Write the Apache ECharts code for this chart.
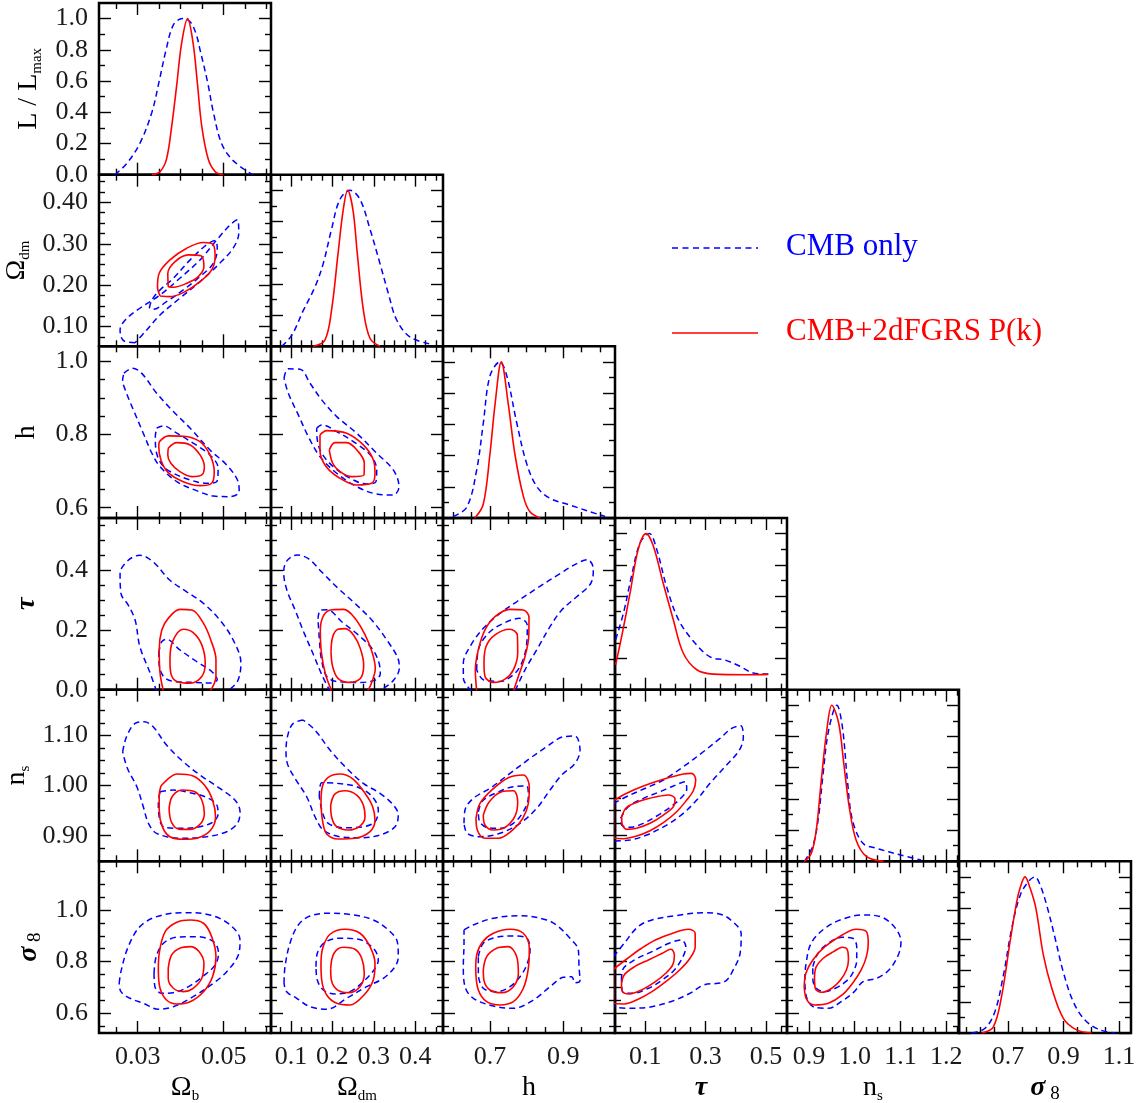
<!DOCTYPE html>
<html><head><meta charset="utf-8">
<script src="https://cdn.jsdelivr.net/npm/echarts@6/dist/echarts.min.js"></script>
<style>html,body{margin:0;padding:0;background:#fff}#c{width:1141px;height:1103px}</style>
</head><body><div id="c"></div>
<script>
// ---------------- 1-D likelihoods: [value, L/Lmax] ----------------
const likeOb_cmb = [[0.0247,0],[0.0274,0.07],[0.0305,0.2],[0.0333,0.4],[0.0350,0.6],[0.0366,0.8],[0.0383,0.96],[0.0404,1.0],[0.0422,0.98],[0.0436,0.9],[0.0445,0.8],[0.0462,0.6],[0.0476,0.4],[0.0495,0.2],[0.0522,0.09],[0.0567,0]];
const likeOb_pk = [[0.0333,0],[0.0352,0.02],[0.0367,0.1],[0.0379,0.31],[0.0391,0.58],[0.0402,0.84],[0.0416,1.0],[0.0429,0.84],[0.0439,0.58],[0.0449,0.31],[0.0464,0.1],[0.048,0.02],[0.0499,0]];
const likeOdm_cmb = [[0.0778,0],[0.102,0.07],[0.130,0.23],[0.158,0.38],[0.178,0.53],[0.198,0.75],[0.218,0.94],[0.243,1.0],[0.267,0.94],[0.291,0.75],[0.315,0.53],[0.335,0.34],[0.355,0.17],[0.387,0.06],[0.436,0.015]];
const likeOdm_pk = [[0.154,0],[0.182,0.04],[0.198,0.23],[0.214,0.6],[0.226,0.87],[0.237,1.0],[0.25,0.87],[0.26,0.6],[0.275,0.23],[0.291,0.05],[0.315,0]];
const likeH_cmb = [[0.600,0.01],[0.637,0.07],[0.664,0.31],[0.682,0.61],[0.700,0.91],[0.727,1.0],[0.746,0.91],[0.773,0.61],[0.800,0.35],[0.828,0.2],[0.864,0.126],[0.918,0.083],[0.973,0.04],[1.014,0.01]];
const likeH_pk = [[0.659,0],[0.682,0.09],[0.700,0.41],[0.714,0.73],[0.731,1.0],[0.750,0.73],[0.768,0.41],[0.791,0.14],[0.809,0.04],[0.837,0]];
const likeTau_cmb = [[0.002,0.32],[0.028,0.49],[0.055,0.73],[0.083,0.94],[0.114,1.0],[0.138,0.9],[0.171,0.66],[0.21,0.45],[0.26,0.31],[0.315,0.21],[0.365,0.19],[0.414,0.15],[0.458,0.107],[0.508,0.1]];
const likeTau_pk = [[0.002,0.16],[0.022,0.34],[0.05,0.62],[0.077,0.9],[0.103,1.0],[0.127,0.92],[0.16,0.68],[0.193,0.45],[0.226,0.235],[0.271,0.128],[0.326,0.1],[0.436,0.096],[0.508,0.098]];
const likeNs_cmb = [[0.890,0],[0.908,0.094],[0.920,0.265],[0.931,0.564],[0.943,0.84],[0.961,1.0],[0.973,0.863],[0.984,0.52],[0.995,0.265],[1.018,0.115],[1.048,0.083],[1.101,0.04],[1.145,0.008]];
const likeNs_pk = [[0.890,0],[0.905,0.05],[0.916,0.2],[0.927,0.52],[0.939,0.84],[0.95,1.0],[0.965,0.885],[0.976,0.63],[0.988,0.35],[1.003,0.137],[1.026,0.03],[1.063,0]];
const likeS8_cmb = [[0.569,0],[0.617,0.03],[0.653,0.14],[0.683,0.37],[0.713,0.67],[0.743,0.88],[0.773,0.97],[0.797,1.0],[0.815,0.95],[0.839,0.82],[0.869,0.61],[0.899,0.39],[0.935,0.2],[0.977,0.083],[1.031,0.02],[1.085,0]];
const likeS8_pk = [[0.605,0],[0.647,0.04],[0.677,0.24],[0.707,0.585],[0.731,0.84],[0.745,0.94],[0.761,1.0],[0.779,0.93],[0.8,0.8],[0.827,0.5],[0.857,0.29],[0.899,0.094],[0.947,0.02],[1.001,0]];

// ---------------- 2-D contours: [x, y] (95% and 68%) ----------------
const odm_ob_cmb95 = [[0.0294,0.0607],[0.0267,0.0656],[0.0259,0.0915],[0.0271,0.1157],[0.0305,0.144],[0.0352,0.1762],[0.0398,0.2166],[0.0445,0.261],[0.0484,0.3094],[0.0515,0.3457],[0.0532,0.3578],[0.0535,0.3256],[0.0522,0.2893],[0.0491,0.253],[0.0445,0.2084],[0.0398,0.1682],[0.0352,0.1278],[0.0321,0.0915]];
const odm_ob_cmb68 = [[0.0327,0.144],[0.0333,0.1641],[0.0352,0.1883],[0.0383,0.2166],[0.0422,0.261],[0.046,0.2973],[0.048,0.3077],[0.0485,0.2893],[0.0476,0.253],[0.0445,0.2206],[0.0406,0.1883],[0.0367,0.16],[0.0336,0.1416]];
const odm_ob_pk95 = [[0.0352,0.1738],[0.0346,0.1963],[0.035,0.2286],[0.0375,0.261],[0.0414,0.2893],[0.0453,0.3029],[0.0476,0.2973],[0.048,0.269],[0.0472,0.2367],[0.0445,0.2084],[0.0406,0.1818],[0.0375,0.1721]];
const odm_ob_pk68 = [[0.0371,0.1963],[0.037,0.2286],[0.0387,0.257],[0.0418,0.2731],[0.0447,0.2707],[0.0454,0.2448],[0.0441,0.2206],[0.0414,0.2044],[0.0383,0.1949]];

const h_ob_cmb95 = [[0.0268,0.9677],[0.0288,0.9813],[0.0309,0.9677],[0.0344,0.913],[0.0383,0.8627],[0.0422,0.8173],[0.0468,0.758],[0.0507,0.7169],[0.0532,0.6759],[0.0536,0.6439],[0.0515,0.6302],[0.0476,0.6322],[0.0437,0.6467],[0.0391,0.6713],[0.0352,0.7123],[0.0333,0.7489],[0.0313,0.8036],[0.029,0.8673],[0.0274,0.913],[0.0265,0.9493]];
const h_ob_cmb68 = [[0.0344,0.8173],[0.036,0.8236],[0.0391,0.8036],[0.0429,0.7763],[0.0468,0.7443],[0.0487,0.7079],[0.0484,0.6713],[0.046,0.6669],[0.0422,0.6759],[0.0383,0.6942],[0.036,0.7123],[0.0344,0.7489],[0.0341,0.7943]];
const h_ob_pk95 = [[0.035,0.7799],[0.0371,0.7963],[0.0406,0.7953],[0.0445,0.7806],[0.0468,0.7443],[0.0478,0.6986],[0.0472,0.6669],[0.0445,0.6603],[0.0406,0.6713],[0.0371,0.6959],[0.0354,0.7306],[0.0349,0.7671]];
const h_ob_pk68 = [[0.0371,0.7626],[0.0391,0.7779],[0.0422,0.7716],[0.0445,0.7443],[0.0455,0.7123],[0.0449,0.6896],[0.0426,0.6849],[0.0398,0.6986],[0.0377,0.7215],[0.037,0.7443]];

const tau_ob_cmb95 = [[0.0344,-0.006],[0.0329,0.0554],[0.0305,0.1439],[0.0294,0.2326],[0.0278,0.2824],[0.0261,0.3212],[0.0259,0.3876],[0.0278,0.4319],[0.0305,0.4485],[0.0336,0.4264],[0.0375,0.3654],[0.0414,0.3267],[0.0453,0.288],[0.0491,0.2326],[0.0522,0.1661],[0.054,0.0886],[0.0532,0.0277],[0.0507,-0.006]];
const tau_ob_cmb68 = [[0.0349,0.1218],[0.0356,0.1606],[0.0367,0.1683],[0.0398,0.1329],[0.0437,0.0941],[0.0472,0.0609],[0.0485,0.0332],[0.0468,0.0221],[0.0429,0.0244],[0.0383,0.0277],[0.036,0.0443],[0.035,0.0831]];
const tau_ob_pk95 = [[0.036,-0.006],[0.0352,0.0554],[0.035,0.1329],[0.0356,0.1993],[0.0371,0.2381],[0.0398,0.268],[0.0426,0.2658],[0.0453,0.2215],[0.047,0.1661],[0.0482,0.0997],[0.0482,0.0443],[0.0468,-0.006]];
const tau_ob_pk68 = [[0.0375,0.0997],[0.0381,0.1606],[0.0406,0.2016],[0.0429,0.1905],[0.0449,0.1495],[0.0457,0.0886],[0.0449,0.0443],[0.0422,0.0221],[0.0391,0.0277],[0.0377,0.0554]];

const ns_ob_cmb95 = [[0.0265,1.0673],[0.0274,1.0972],[0.0294,1.1239],[0.0315,1.1271],[0.0336,1.1171],[0.0367,1.0807],[0.0406,1.0474],[0.0445,1.0209],[0.0491,0.9944],[0.0526,0.9711],[0.0538,0.9478],[0.0532,0.9247],[0.0507,0.908],[0.046,0.898],[0.0398,0.8948],[0.0344,0.9048],[0.0325,0.9247],[0.0313,0.9578],[0.0298,0.9976],[0.0276,1.0343]];
const ns_ob_cmb68 = [[0.0352,0.9876],[0.0383,0.991],[0.0422,0.9857],[0.046,0.9765],[0.0484,0.9612],[0.0487,0.9432],[0.0476,0.9279],[0.0445,0.9179],[0.0398,0.9147],[0.036,0.9179],[0.035,0.9378],[0.0348,0.9645]];
const ns_ob_pk95 = [[0.0354,0.999],[0.0375,1.0163],[0.0392,1.0229],[0.0429,1.0189],[0.0457,0.999],[0.0474,0.9711],[0.0481,0.9378],[0.047,0.9114],[0.0441,0.896],[0.0406,0.8928],[0.0375,0.898],[0.0358,0.9167],[0.035,0.9512],[0.035,0.9811]];
const ns_ob_pk68 = [[0.0373,0.9546],[0.0381,0.9791],[0.0404,0.991],[0.0433,0.9876],[0.0449,0.9711],[0.0455,0.9446],[0.0447,0.9247],[0.0423,0.9127],[0.0398,0.9127],[0.0379,0.9259]];

const s8_ob_cmb95 = [[0.0257,0.7155],[0.0261,0.7606],[0.0278,0.8579],[0.0305,0.9358],[0.0344,0.9747],[0.0406,0.9903],[0.0468,0.9813],[0.0515,0.9424],[0.0538,0.884],[0.0534,0.8256],[0.0507,0.7606],[0.0476,0.7155],[0.0429,0.6633],[0.0383,0.6244],[0.0348,0.6143],[0.0313,0.6376],[0.0282,0.6571],[0.0261,0.6828]];
const s8_ob_cmb68 = [[0.0338,0.7544],[0.0343,0.819],[0.036,0.8712],[0.0391,0.8945],[0.0437,0.8969],[0.0476,0.8774],[0.0488,0.8322],[0.048,0.7867],[0.0453,0.7439],[0.0418,0.7022],[0.0383,0.6789],[0.0356,0.6765],[0.034,0.7022]];
const s8_ob_pk95 = [[0.0348,0.7672],[0.035,0.8322],[0.0364,0.9163],[0.0391,0.9529],[0.0422,0.9619],[0.0453,0.949],[0.0472,0.8969],[0.0482,0.819],[0.0474,0.7411],[0.0453,0.6828],[0.0422,0.6438],[0.0391,0.6349],[0.0367,0.6505],[0.0352,0.696]];
const s8_ob_pk68 = [[0.0371,0.7738],[0.0379,0.8256],[0.0398,0.8517],[0.0422,0.8579],[0.0443,0.8385],[0.0454,0.7933],[0.0449,0.7349],[0.0429,0.696],[0.0406,0.6828],[0.0383,0.696],[0.0371,0.7349]];

const h_odm_cmb95 = [[0.0834,0.954],[0.0937,0.9794],[0.122,0.9786],[0.1461,0.9403],[0.1743,0.8947],[0.2105,0.849],[0.2587,0.8036],[0.307,0.7489],[0.3471,0.7033],[0.3608,0.6576],[0.3471,0.6349],[0.307,0.6376],[0.2587,0.6576],[0.2105,0.6942],[0.1702,0.7396],[0.142,0.7943],[0.1179,0.8537],[0.0937,0.913]];
const h_odm_cmb68 = [[0.1622,0.8173],[0.1743,0.8263],[0.2105,0.808],[0.2627,0.7716],[0.2949,0.7396],[0.307,0.7033],[0.3053,0.6713],[0.2829,0.665],[0.2426,0.6806],[0.2023,0.7123],[0.1743,0.7489],[0.1637,0.7853]];
const h_odm_pk95 = [[0.1702,0.799],[0.1864,0.8107],[0.2346,0.8036],[0.2748,0.7716],[0.299,0.7306],[0.3029,0.6942],[0.2949,0.6669],[0.2587,0.6623],[0.2144,0.6833],[0.1823,0.7169],[0.1702,0.758]];
const h_odm_pk68 = [[0.1927,0.758],[0.2064,0.7779],[0.2346,0.7779],[0.2627,0.7533],[0.2771,0.7216],[0.2764,0.6896],[0.2467,0.6849],[0.2185,0.6986],[0.2008,0.7216]];

const tau_odm_cmb95 = [[0.1951,-0.007],[0.175,0.0487],[0.155,0.1151],[0.1309,0.1927],[0.1106,0.2647],[0.0906,0.3311],[0.0826,0.392],[0.0906,0.4308],[0.1147,0.4496],[0.143,0.4363],[0.175,0.392],[0.2153,0.3366],[0.2554,0.2868],[0.2957,0.2315],[0.3319,0.1651],[0.3584,0.1041],[0.3615,0.0708],[0.3481,0.0321],[0.3239,0.0044],[0.3118,-0.007]];
const tau_odm_cmb68 = [[0.1654,0.237],[0.171,0.2647],[0.1871,0.2669],[0.2233,0.2259],[0.2636,0.1816],[0.2957,0.1373],[0.3118,0.093],[0.3157,0.0543],[0.3036,0.0321],[0.2636,0.0244],[0.2153,0.0266],[0.1871,0.0432],[0.1734,0.1041],[0.1686,0.1706]];
const tau_odm_pk95 = [[0.1992,-0.007],[0.183,0.0543],[0.1734,0.1262],[0.171,0.1983],[0.1791,0.2481],[0.1992,0.2669],[0.2274,0.268],[0.2554,0.237],[0.2795,0.1816],[0.2957,0.1262],[0.3036,0.0708],[0.2957,0.0266],[0.2843,-0.007]];
const tau_odm_pk68 = [[0.1968,0.1262],[0.2008,0.1761],[0.2136,0.2015],[0.2313,0.2037],[0.2515,0.1816],[0.2675,0.1373],[0.2756,0.0819],[0.2675,0.0377],[0.2394,0.0244],[0.2136,0.0377],[0.2008,0.0765]];

const ns_odm_cmb95 = [[0.1299,1.1305],[0.1058,1.1239],[0.0937,1.104],[0.0882,1.0707],[0.0913,1.0442],[0.1099,1.0143],[0.1381,0.9777],[0.1582,0.9378],[0.1782,0.9114],[0.2185,0.898],[0.2667,0.896],[0.315,0.9014],[0.3512,0.9179],[0.3591,0.9412],[0.3471,0.9612],[0.315,0.9845],[0.2747,1.0044],[0.2346,1.0343],[0.1943,1.0707],[0.1582,1.1105]];
const ns_odm_cmb68 = [[0.1686,0.9777],[0.1743,1.0056],[0.2105,1.0044],[0.2587,0.9976],[0.2949,0.9791],[0.3109,0.9512],[0.3029,0.9279],[0.2747,0.9179],[0.2264,0.9159],[0.1902,0.9247],[0.1767,0.9446]];
const ns_odm_pk95 = [[0.1726,0.9645],[0.1758,0.9976],[0.1902,1.0163],[0.2185,1.0229],[0.2506,1.0125],[0.2788,0.9845],[0.2973,0.9578],[0.3029,0.9313],[0.2908,0.908],[0.2547,0.8948],[0.2144,0.8934],[0.1864,0.9034],[0.1767,0.9279]];
const ns_odm_pk68 = [[0.196,0.9612],[0.2064,0.9833],[0.2305,0.9896],[0.2587,0.9811],[0.2747,0.9612],[0.2788,0.9378],[0.2667,0.9193],[0.2385,0.9114],[0.2105,0.9179],[0.1984,0.9367]];

const s8_odm_cmb95 = [[0.0834,0.7155],[0.0858,0.7801],[0.0978,0.8712],[0.1179,0.9424],[0.1461,0.9774],[0.1943,0.9879],[0.2506,0.9813],[0.2988,0.9619],[0.335,0.9229],[0.3567,0.8774],[0.3591,0.819],[0.3512,0.7801],[0.323,0.7349],[0.2829,0.7022],[0.2346,0.6571],[0.1864,0.6143],[0.1461,0.6244],[0.114,0.6571],[0.0898,0.6828]];
const s8_odm_cmb68 = [[0.1606,0.7801],[0.1637,0.8322],[0.1823,0.8751],[0.2185,0.8906],[0.2627,0.8867],[0.2988,0.8517],[0.3109,0.8062],[0.3005,0.7672],[0.2747,0.7217],[0.2426,0.6828],[0.2064,0.6738],[0.1782,0.6894],[0.1637,0.7283]];
const s8_odm_pk95 = [[0.1726,0.7933],[0.1767,0.8517],[0.1943,0.9062],[0.2305,0.9257],[0.2667,0.9101],[0.2908,0.8579],[0.3029,0.7933],[0.2988,0.7283],[0.2764,0.6699],[0.2426,0.631],[0.2105,0.6376],[0.1864,0.6699],[0.1743,0.7283]];
const s8_odm_pk68 = [[0.196,0.7733],[0.204,0.8322],[0.2264,0.8556],[0.2547,0.8478],[0.2708,0.8128],[0.2771,0.7544],[0.2667,0.7022],[0.2385,0.6789],[0.212,0.6894],[0.1976,0.7283]];

const tau_h_cmb95 = [[0.6503,-0.005],[0.6274,0.0388],[0.6274,0.0886],[0.6456,0.144],[0.6819,0.2049],[0.7274,0.2547],[0.773,0.2935],[0.8275,0.3378],[0.8911,0.3876],[0.9366,0.4208],[0.9655,0.4341],[0.9819,0.4042],[0.9748,0.3544],[0.9366,0.3101],[0.8957,0.2658],[0.8638,0.2104],[0.8275,0.1329],[0.7956,0.0664],[0.7683,-0.005]];
const tau_h_cmb68 = [[0.6639,0.0664],[0.6683,0.1329],[0.6955,0.1883],[0.7365,0.2215],[0.7801,0.2381],[0.8019,0.2159],[0.8003,0.155],[0.7866,0.0886],[0.7638,0.0498],[0.7274,0.0277],[0.6819,0.0332]];
const tau_h_pk95 = [[0.6639,-0.005],[0.6602,0.0664],[0.6683,0.1329],[0.6865,0.1993],[0.7138,0.2436],[0.7547,0.268],[0.791,0.2658],[0.8065,0.2414],[0.8057,0.1772],[0.7956,0.1107],[0.7774,0.0443],[0.7638,-0.005]];
const tau_h_pk68 = [[0.6838,0.0886],[0.6893,0.144],[0.7138,0.1827],[0.7547,0.2015],[0.7747,0.1827],[0.7757,0.1218],[0.7638,0.0664],[0.7411,0.0354],[0.7092,0.0244],[0.6865,0.0443]];

const ns_h_cmb95 = [[0.6293,0.9247],[0.632,0.9512],[0.6546,0.9745],[0.7002,0.9944],[0.7547,1.0243],[0.8093,1.0542],[0.8548,1.0773],[0.9001,1.0972],[0.932,1.0986],[0.9456,1.0707],[0.932,1.0442],[0.8957,1.0209],[0.8638,0.991],[0.8275,0.9546],[0.782,0.9247],[0.7274,0.9048],[0.6729,0.898],[0.6383,0.9048]];
const ns_h_cmb68 = [[0.6683,0.9478],[0.6803,0.9697],[0.7184,0.9857],[0.7638,0.9976],[0.8003,0.999],[0.8047,0.9777],[0.791,0.9478],[0.7638,0.9247],[0.7274,0.9147],[0.6912,0.9167],[0.671,0.9299]];
const ns_h_pk95 = [[0.662,0.9347],[0.6729,0.9645],[0.7048,0.991],[0.7501,1.0156],[0.791,1.0209],[0.8073,0.9976],[0.8047,0.9645],[0.7894,0.9347],[0.7621,0.9114],[0.7228,0.8948],[0.6865,0.8948],[0.6656,0.9114]];
const ns_h_pk68 = [[0.6819,0.9412],[0.6983,0.9677],[0.7321,0.9876],[0.7638,0.9896],[0.7757,0.9677],[0.7683,0.9392],[0.7411,0.9167],[0.7092,0.9114],[0.6865,0.9213]];

const s8_h_cmb95 = [[0.6293,0.9229],[0.6546,0.9424],[0.7092,0.9685],[0.782,0.9786],[0.8548,0.9619],[0.8864,0.9358],[0.9183,0.8906],[0.941,0.8451],[0.9429,0.7801],[0.9456,0.7256],[0.932,0.7178],[0.9229,0.7411],[0.9001,0.7388],[0.8638,0.7022],[0.8184,0.6505],[0.7638,0.6181],[0.7092,0.6271],[0.6546,0.6571],[0.632,0.7022],[0.6274,0.7801],[0.6293,0.8712]];
const s8_h_cmb68 = [[0.6683,0.819],[0.6819,0.8712],[0.7184,0.8945],[0.7638,0.8996],[0.8003,0.8906],[0.8093,0.8451],[0.8003,0.7867],[0.782,0.7411],[0.7547,0.7022],[0.7184,0.6828],[0.6819,0.696],[0.6683,0.7544]];
const s8_h_pk95 = [[0.6612,0.7672],[0.6639,0.8256],[0.6803,0.8774],[0.7092,0.9101],[0.7547,0.9257],[0.791,0.9101],[0.8073,0.8517],[0.8047,0.7733],[0.791,0.696],[0.7638,0.6438],[0.7274,0.631],[0.6912,0.6438],[0.6683,0.6894]];
const s8_h_pk68 = [[0.6819,0.7672],[0.6912,0.819],[0.7184,0.8517],[0.7501,0.8579],[0.773,0.819],[0.7775,0.7544],[0.7638,0.7022],[0.7321,0.6789],[0.7002,0.6894],[0.6838,0.7256]];

const ns_tau_cmb95 = [[-0.005,0.9645],[0.0497,0.9811],[0.105,0.9956],[0.1602,1.011],[0.2263,1.0374],[0.2926,1.0673],[0.348,1.094],[0.3867,1.1139],[0.4165,1.1191],[0.4253,1.0972],[0.412,1.0707],[0.3645,1.0374],[0.3148,1.0044],[0.2707,0.9711],[0.2263,0.9446],[0.1713,0.9213],[0.105,0.9014],[0.0497,0.8914],[-0.005,0.8894]];
const ns_tau_cmb68 = [[0.0188,0.9347],[0.0442,0.9578],[0.0939,0.9745],[0.1491,0.9877],[0.1933,0.999],[0.232,1.0076],[0.2376,0.9924],[0.2177,0.9745],[0.1823,0.9566],[0.1436,0.9412],[0.0939,0.9247],[0.0497,0.9167],[0.0222,0.9213]];
const ns_tau_pk95 = [[-0.005,0.9697],[0.0387,0.9845],[0.0939,0.999],[0.1602,1.0124],[0.2263,1.0229],[0.2541,1.0243],[0.2674,1.011],[0.2596,0.9896],[0.2376,0.9711],[0.2044,0.9478],[0.1602,0.9259],[0.116,0.91],[0.0718,0.8994],[0.0276,0.894],[-0.005,0.8968]];
const ns_tau_pk68 = [[0.0221,0.9378],[0.0387,0.9566],[0.0829,0.9691],[0.1381,0.9777],[0.1768,0.9811],[0.1988,0.9737],[0.1933,0.9578],[0.1602,0.9412],[0.116,0.9247],[0.0718,0.9147],[0.0387,0.9127],[0.0232,0.9247]];

const s8_tau_cmb95 = [[-0.005,0.819],[0.0305,0.8712],[0.0766,0.9358],[0.1224,0.9619],[0.2026,0.9786],[0.2943,0.9903],[0.3459,0.9852],[0.3837,0.9619],[0.4182,0.9074],[0.4146,0.8322],[0.3917,0.7672],[0.3631,0.7217],[0.2943,0.7088],[0.2486,0.6765],[0.1912,0.6466],[0.1224,0.6244],[0.0534,0.6181],[-0.005,0.6337]];
const s8_tau_cmb68 = [[0.0215,0.7283],[0.0249,0.7672],[0.065,0.8062],[0.1224,0.8385],[0.1796,0.8712],[0.2197,0.884],[0.2347,0.8579],[0.2254,0.819],[0.1968,0.7672],[0.1568,0.7283],[0.1108,0.696],[0.0594,0.6765],[0.0249,0.6828]];
const s8_tau_pk95 = [[-0.005,0.7699],[0.0421,0.8128],[0.0879,0.8517],[0.1339,0.884],[0.1912,0.9101],[0.2426,0.9257],[0.2657,0.9101],[0.2657,0.8579],[0.2486,0.8128],[0.2142,0.7672],[0.1682,0.7217],[0.1224,0.6828],[0.0766,0.6532],[0.0305,0.6349],[-0.005,0.6376]];
const s8_tau_pk68 = [[0.0215,0.7127],[0.0305,0.7478],[0.065,0.7801],[0.1108,0.8062],[0.1568,0.8322],[0.1853,0.8478],[0.1968,0.8256],[0.1912,0.7867],[0.1682,0.7544],[0.1339,0.7217],[0.0879,0.6894],[0.0477,0.6738],[0.0249,0.6828]];

const s8_ns_cmb95 = [[0.8909,0.7283],[0.8933,0.7867],[0.9047,0.8712],[0.9349,0.9296],[0.9727,0.9646],[1.0182,0.9813],[1.056,0.9747],[1.0862,0.9358],[1.1012,0.8774],[1.0953,0.8256],[1.0748,0.7672],[1.0483,0.7349],[1.0182,0.7217],[0.9991,0.6828],[0.9727,0.6466],[0.9425,0.6181],[0.9121,0.622],[0.8955,0.6571]];
const s8_ns_cmb68 = [[0.9084,0.7801],[0.9198,0.8322],[0.9425,0.8712],[0.9727,0.8945],[0.9954,0.8906],[1.0044,0.8579],[1.0044,0.8062],[0.9954,0.7544],[0.9803,0.7217],[0.9576,0.696],[0.9349,0.6828],[0.916,0.696],[0.9084,0.7349]];
const s8_ns_pk95 = [[0.8896,0.7022],[0.8933,0.7544],[0.9084,0.8062],[0.9349,0.8579],[0.9727,0.9035],[1.0031,0.9257],[1.0256,0.9163],[1.0296,0.8712],[1.0256,0.819],[1.0142,0.7672],[0.9954,0.7155],[0.9727,0.6699],[0.9425,0.6376],[0.9121,0.631],[0.8955,0.6505]];
const s8_ns_pk68 = [[0.9121,0.7411],[0.916,0.7801],[0.9311,0.8128],[0.9539,0.8385],[0.9727,0.8556],[0.9841,0.8451],[0.9863,0.8062],[0.9819,0.7672],[0.969,0.7283],[0.95,0.696],[0.9272,0.6804],[0.9137,0.696]];

// ---------------- tick values and labels ----------------
const ObTicksX = [0.03, 0.05];          const ObLabelsX = ['0.03','0.05'];
const OdmTicksX = [0.1, 0.2, 0.3, 0.4]; const OdmLabelsX = ['0.1','0.2','0.3','0.4'];
const hTicksX = [0.7, 0.9];             const hLabelsX = ['0.7','0.9'];
const tauTicksX = [0.1, 0.3, 0.5];      const tauLabelsX = ['0.1','0.3','0.5'];
const nsTicksX = [0.9, 1.0, 1.1, 1.2];  const nsLabelsX = ['0.9','1.0','1.1','1.2'];
const s8TicksX = [0.7, 0.9, 1.1];       const s8LabelsX = ['0.7','0.9','1.1'];
const likeTicksY = [0, 0.2, 0.4, 0.6, 0.8, 1.0]; const likeLabelsY = ['0.0','0.2','0.4','0.6','0.8','1.0'];
const OdmTicksY = [0.1, 0.2, 0.3, 0.4]; const OdmLabelsY = ['0.10','0.20','0.30','0.40'];
const hTicksY = [0.6, 0.8, 1.0];        const hLabelsY = ['0.6','0.8','1.0'];
const tauTicksY = [0, 0.2, 0.4];        const tauLabelsY = ['0.0','0.2','0.4'];
const nsTicksY = [0.9, 1.0, 1.1];       const nsLabelsY = ['0.90','1.00','1.10'];
const s8TicksY = [0.6, 0.8, 1.0];       const s8LabelsY = ['0.6','0.8','1.0'];

const xTitles = ['{a|Ω}{s|b}', '{a|Ω}{s|dm}', '{a|h}', '{t|τ}', '{a|n}{s|s}', '{t|σ}{s8| 8}'];
const yTitles = ['{a|L / L}{s|max}', '{a|Ω}{s|dm}', '{a|h}', '{t|τ}', '{a|n}{s|s}', '{t|σ}{s8| 8}'];
const legendNames = ['CMB only', 'CMB+2dFGRS P(k)'];

// ---------------- axis configuration ----------------
function cfg(min, max, minorStep, ticks, labels) {
  const minor = [];
  const k0 = Math.ceil(min / minorStep - 1e-9), k1 = Math.floor(max / minorStep + 1e-9);
  for (let k = k0; k <= k1; k++) {
    const v = Math.round(k * minorStep * 1e6) / 1e6;
    if (v <= min + 1e-9 || v >= max - 1e-9) continue;
    if (ticks.some(t => Math.abs(t - v) < 1e-7)) continue;
    minor.push(v);
  }
  return { min, max, ticks, labels, minor,
    fmt: v => { const i = ticks.findIndex(t => Math.abs(t - v) < 1e-7); return i >= 0 ? labels[i] : ''; } };
}
const X_CFG = [
  cfg(0.021, 0.061, 0.005, ObTicksX, ObLabelsX),
  cfg(0.052, 0.467, 0.025, OdmTicksX, OdmLabelsX),
  cfg(0.572, 1.041, 0.05, hTicksX, hLabelsX),
  cfg(0.0, 0.57, 0.05, tauTicksX, tauLabelsX),
  cfg(0.852, 1.228, 0.025, nsTicksX, nsLabelsX),
  cfg(0.523, 1.143, 0.05, s8TicksX, s8LabelsX)
];
const Y_CFG = [
  null,
  cfg(0.052, 0.467, 0.025, OdmTicksY, OdmLabelsY),
  cfg(0.572, 1.041, 0.05, hTicksY, hLabelsY),
  cfg(0.0, 0.573, 0.05, tauTicksY, tauLabelsY),
  cfg(0.849, 1.191, 0.025, nsTicksY, nsLabelsY),
  cfg(0.522, 1.19, 0.05, s8TicksY, s8LabelsY)
];
const LIKE_CFG = cfg(0, 1.1, 0.1, likeTicksY, likeLabelsY);

const diag = [
  [likeOb_cmb, likeOb_pk], [likeOdm_cmb, likeOdm_pk], [likeH_cmb, likeH_pk],
  [likeTau_cmb, likeTau_pk], [likeNs_cmb, likeNs_pk], [likeS8_cmb, likeS8_pk]
];
const panels2d = [
  [1,0,[odm_ob_cmb95,odm_ob_cmb68,odm_ob_pk95,odm_ob_pk68]],
  [2,0,[h_ob_cmb95,h_ob_cmb68,h_ob_pk95,h_ob_pk68]],
  [3,0,[tau_ob_cmb95,tau_ob_cmb68,tau_ob_pk95,tau_ob_pk68]],
  [4,0,[ns_ob_cmb95,ns_ob_cmb68,ns_ob_pk95,ns_ob_pk68]],
  [5,0,[s8_ob_cmb95,s8_ob_cmb68,s8_ob_pk95,s8_ob_pk68]],
  [2,1,[h_odm_cmb95,h_odm_cmb68,h_odm_pk95,h_odm_pk68]],
  [3,1,[tau_odm_cmb95,tau_odm_cmb68,tau_odm_pk95,tau_odm_pk68]],
  [4,1,[ns_odm_cmb95,ns_odm_cmb68,ns_odm_pk95,ns_odm_pk68]],
  [5,1,[s8_odm_cmb95,s8_odm_cmb68,s8_odm_pk95,s8_odm_pk68]],
  [3,2,[tau_h_cmb95,tau_h_cmb68,tau_h_pk95,tau_h_pk68]],
  [4,2,[ns_h_cmb95,ns_h_cmb68,ns_h_pk95,ns_h_pk68]],
  [5,2,[s8_h_cmb95,s8_h_cmb68,s8_h_pk95,s8_h_pk68]],
  [4,3,[ns_tau_cmb95,ns_tau_cmb68,ns_tau_pk95,ns_tau_pk68]],
  [5,3,[s8_tau_cmb95,s8_tau_cmb68,s8_tau_pk95,s8_tau_pk68]],
  [5,4,[s8_ns_cmb95,s8_ns_cmb68,s8_ns_pk95,s8_ns_pk68]]
];
const openContours = [tau_ob_cmb95, tau_ob_pk95, tau_odm_cmb95, tau_odm_pk95, tau_h_cmb95, tau_h_pk95];

// ---------------- layout ----------------
const colLeft = [99, 271, 443, 615, 787, 959], colW = 172;
const rowTop = [3, 174.7, 346.3, 518, 689.7, 861.3, 1033];
const FONT = 'Liberation Serif';
const BLUE = '#0000ff', RED = '#ff0000';
const rich = {
  a: { fontFamily: FONT, fontSize: 28, color: '#000', lineHeight: 32 },
  t: { fontFamily: FONT, fontSize: 28, fontStyle: 'italic', fontWeight: 'bold', color: '#000', lineHeight: 32 },
  s: { fontFamily: FONT, fontSize: 15, color: '#000', lineHeight: 16, verticalAlign: 'bottom' },
  s8: { fontFamily: FONT, fontSize: 19, color: '#000', lineHeight: 20, verticalAlign: 'bottom' }
};
const yNameGap = [54, 66, 56, 56, 66, 54];

const grids = [], xAxes = [], yAxes = [], series = [];

function makeAxis(gi, c, pos, major, showLabels, extra) {
  const ax = {
    type: 'value', gridIndex: gi, position: pos, min: c.min, max: c.max,
    axisLine: { show: false, onZero: false },
    splitLine: { show: false },
    axisTick: { show: true, inside: true, length: major ? 12 : 6,
      customValues: major ? c.ticks : c.minor, lineStyle: { color: '#000', width: 1.4 } },
    axisLabel: { show: !!showLabels, customValues: c.ticks, formatter: c.fmt, margin: 11,
      fontFamily: FONT, fontSize: 26, color: '#1a1a1a' },
    silent: true
  };
  return Object.assign(ax, extra || {});
}

function addPanel(r, c) {
  const gi = grids.length;
  grids.push({ left: colLeft[c], top: rowTop[r], width: colW, height: rowTop[r + 1] - rowTop[r],
    show: true, borderColor: '#000', borderWidth: 2.5, backgroundColor: 'rgba(0,0,0,0)',
    containLabel: false, outerBoundsMode: 'none' });
  const xc = X_CFG[c], yc = r === c ? LIKE_CFG : Y_CFG[r];
  const xi = xAxes.length, yi = yAxes.length;
  const xName = r === 5 ? { name: xTitles[c], nameLocation: 'middle', nameGap: 39,
    nameTextStyle: { rich: rich, fontFamily: FONT, fontSize: 28, color: '#000' } } : null;
  const yName = c === 0 ? { name: yTitles[r], nameLocation: 'middle', nameGap: yNameGap[r], nameRotate: 90,
    nameTextStyle: { rich: rich, fontFamily: FONT, fontSize: 28, color: '#000' } } : null;
  xAxes.push(makeAxis(gi, xc, 'bottom', true, r === 5, xName));
  xAxes.push(makeAxis(gi, xc, 'bottom', false, false));
  xAxes.push(makeAxis(gi, xc, 'top', true, false));
  xAxes.push(makeAxis(gi, xc, 'top', false, false));
  yAxes.push(makeAxis(gi, yc, 'left', true, c === 0, yName));
  yAxes.push(makeAxis(gi, yc, 'left', false, false));
  yAxes.push(makeAxis(gi, yc, 'right', true, false));
  yAxes.push(makeAxis(gi, yc, 'right', false, false));
  return { xi, yi };
}

function lineSeries(ax, data, blue) {
  return { type: 'line', xAxisIndex: ax.xi, yAxisIndex: ax.yi, data: data,
    symbol: 'none', showSymbol: false, smooth: 0.35, silent: true, clip: true,
    lineStyle: { color: blue ? BLUE : RED, width: blue ? 1.5 : 1.6, type: blue ? [6, 4] : 'solid' },
    z: blue ? 3 : 4 };
}
function closed(pts) {
  return openContours.includes(pts) ? pts.slice() : pts.concat([pts[0]]);
}

for (let k = 0; k < 6; k++) {
  const ax = addPanel(k, k);
  series.push(lineSeries(ax, diag[k][0], true));
  series.push(lineSeries(ax, diag[k][1], false));
}
panels2d.forEach(([r, c, sets]) => {
  const ax = addPanel(r, c);
  series.push(lineSeries(ax, closed(sets[0]), true));
  series.push(lineSeries(ax, closed(sets[1]), true));
  series.push(lineSeries(ax, closed(sets[2]), false));
  series.push(lineSeries(ax, closed(sets[3]), false));
});

const chart = echarts.init(document.getElementById('c'), null, { renderer: 'canvas' });
chart.setOption({
  animation: false,
  backgroundColor: '#fff',
  grid: grids, xAxis: xAxes, yAxis: yAxes, series: series,
  graphic: [
    { type: 'line', shape: { x1: 672, y1: 248, x2: 758, y2: 248 }, style: { stroke: BLUE, lineWidth: 1.5, lineDash: [6, 4.5] } },
    { type: 'text', x: 786, y: 247, style: { text: legendNames[0], fill: BLUE, font: '31px "Liberation Serif"', verticalAlign: 'middle', align: 'left' } },
    { type: 'line', shape: { x1: 672, y1: 333, x2: 758, y2: 333 }, style: { stroke: RED, lineWidth: 1.6 } },
    { type: 'text', x: 786, y: 332, style: { text: legendNames[1], fill: RED, font: '31px "Liberation Serif"', verticalAlign: 'middle', align: 'left' } }
  ]
});
</script>
</body></html>
